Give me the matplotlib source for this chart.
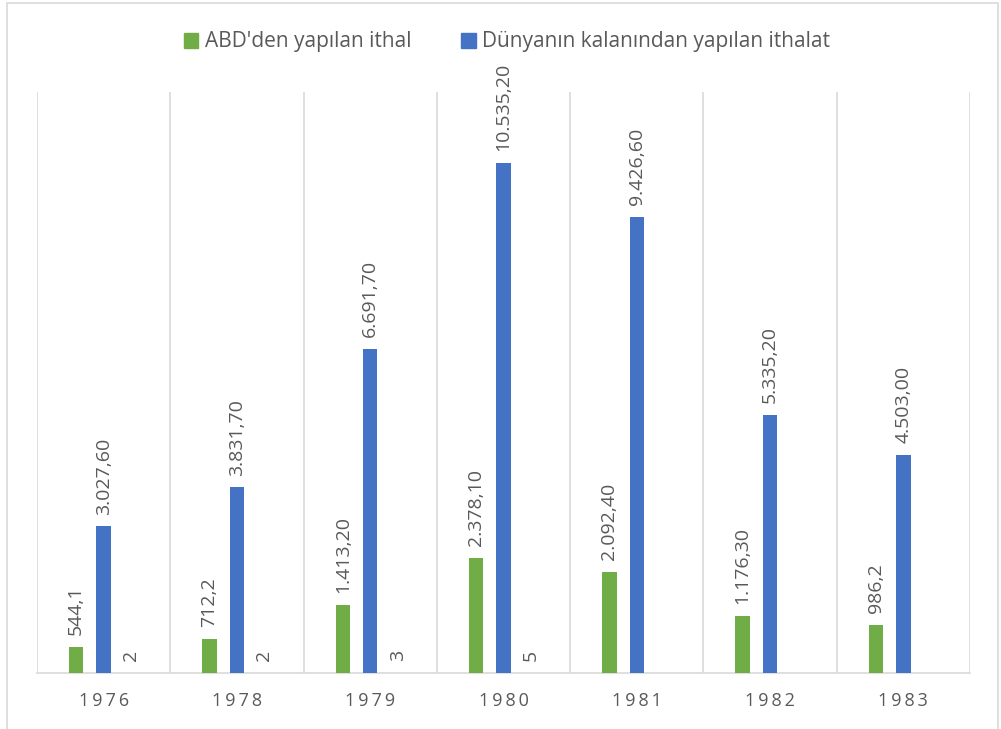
import matplotlib
matplotlib.use("Agg")
import matplotlib.pyplot as plt
from matplotlib.patches import Rectangle
import numpy as np

plt.rcParams['font.family'] = ['Open Sans', 'DejaVu Sans']

years = ["1976", "1978", "1979", "1980", "1981", "1982", "1983"]
abd = [544.1, 712.2, 1413.2, 2378.1, 2092.4, 1176.3, 986.2]
abd_labels = ["544,1", "712,2", "1.413,20", "2.378,10", "2.092,40", "1.176,30", "986,2"]
dunya = [3027.6, 3831.7, 6691.7, 10535.2, 9426.6, 5335.2, 4503.0]
dunya_labels = ["3.027,60", "3.831,70", "6.691,70", "10.535,20", "9.426,60", "5.335,20", "4.503,00"]
third = [2, 2, 3, 5, None, None, None]
third_labels = ["2", "2", "3", "5", "", "", ""]

GREEN = "#70AD47"
BLUE = "#4472C4"
GRAY_TXT = "#595959"
GRID = "#D9D9D9"

fig = plt.figure(figsize=(10.01, 7.29), dpi=100)
fig.patches.append(Rectangle((7/1001, -0.01), (998-7)/1001, 1 - 3/729 + 0.01,
                             transform=fig.transFigure, fill=False,
                             edgecolor=GRID, linewidth=1.2, zorder=0))

ax = fig.add_axes([37/1001, 56/729, (970-37)/1001, (673-92)/729])
x = np.arange(len(years))
w = 0.108
off = 0.206

b1 = ax.bar(x - off, abd, width=w, color=GREEN, zorder=3)
b2 = ax.bar(x, dunya, width=w, color=BLUE, zorder=3)
tv = [v if v is not None else 0 for v in third]
b3 = ax.bar(x + off, tv, width=w, color="#A5A5A5", zorder=3)

ax.set_xlim(-0.5, len(years) - 0.5)
ax.set_ylim(0, 12000)

def label(bars, labels):
    for r, t in zip(bars, labels):
        if not t:
            continue
        ax.annotate(t, (r.get_x() + r.get_width() / 2, r.get_height()),
                    xytext=(0, 8.5), textcoords="offset points",
                    rotation=90, ha="center", va="bottom",
                    fontsize=14, color=GRAY_TXT)

label(b1, abd_labels)
label(b2, dunya_labels)
label(b3, third_labels)

# category separators
for b in np.arange(-0.5, len(years), 1.0):
    ax.axvline(b, color=GRID, linewidth=1.2, zorder=1)

for s in ["top", "left", "right"]:
    ax.spines[s].set_visible(False)
ax.spines["bottom"].set_color(GRID)
ax.spines["bottom"].set_linewidth(1.2)
ax.set_yticks([])
ax.set_xticks(x)
ax.set_xticklabels(["\u2009".join(y) for y in years], fontsize=13, color=GRAY_TXT)
ax.tick_params(axis="x", length=0, pad=14)

handles = [Rectangle((0, 0), 1, 1, color=GREEN), Rectangle((0, 0), 1, 1, color=BLUE)]
fig.legend(handles, ["ABD'den yapılan ithal", "Dünyanın kalanından yapılan ithalat"],
           loc="center", bbox_to_anchor=(507/1001, 1 - 42/729), ncol=2, frameon=False,
           fontsize=15, labelcolor=GRAY_TXT, handlelength=0.7, handleheight=0.7,
           handletextpad=0.3, columnspacing=2.4)

fig.savefig("out.png", dpi=100)
